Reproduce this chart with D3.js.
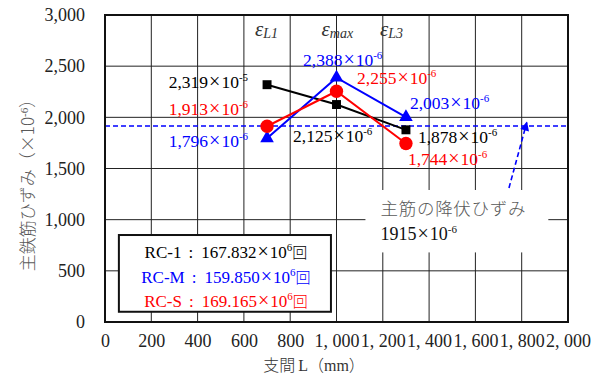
<!DOCTYPE html>
<html>
<head>
<meta charset="utf-8">
<script src="https://cdn.jsdelivr.net/npm/d3@7/dist/d3.min.js"></script>
<style>
  html, body { margin: 0; padding: 0; background: #fff; }
  svg { display: block; }
  text, tspan { font-family: "Liberation Serif", "Times New Roman", serif; }
  tspan.jp, text.jp { font-family: "Noto Sans CJK JP", "Noto Sans CJK SC", sans-serif; }
</style>
</head>
<body>
<svg id="chart" width="596" height="376"></svg>
<script>
// Span positions (mm) where strain was measured
const positions = [700, 1000, 1300];
const positionNames = ["L1", "max", "L3"];

// Main rebar strain (×10^-6) for each specimen
const rc1 = [2319, 2125, 1878];
const rcM = [1796, 2388, 2003];
const rcS = [1913, 2255, 1744];

// Yield strain of main rebar (×10^-6)
const yieldStrain = 1915;

// Fatigue cycles (×10^6) per specimen
const specimens = ["RC-1", "RC-M", "RC-S"];
const cycles = ["167.832", "159.850", "169.165"];

// Axis ticks
const xTicks = [0, 200, 400, 600, 800, 1000, 1200, 1400, 1600, 1800, 2000];
const yTicks = [0, 500, 1000, 1500, 2000, 2500, 3000];

const svg = d3.select("#chart");
const W = 596, H = 376;
const m = { left: 105, right: 28, top: 15, bottom: 54 };
const pw = W - m.left - m.right, ph = H - m.top - m.bottom;

const x = d3.scaleLinear().domain([0, 2000]).range([m.left, m.left + pw]);
const y = d3.scaleLinear().domain([0, 3000]).range([m.top + ph, m.top]);

// Grid
const grid = svg.append("g");
grid.selectAll(".vg").data(xTicks).join("line")
  .attr("x1", d => x(d)).attr("x2", d => x(d))
  .attr("y1", m.top).attr("y2", m.top + ph)
  .attr("stroke", "#222").attr("stroke-width", 1);
grid.selectAll(".hg").data(yTicks).join("line")
  .attr("x1", m.left).attr("x2", m.left + pw)
  .attr("y1", d => y(d)).attr("y2", d => y(d))
  .attr("stroke", "#222").attr("stroke-width", 1);

// Axes (labels only, the frame is drawn separately)
const fmtTick = v => v >= 1000 ? d3.format(",")(v).replace(",", ", ") : String(v);
const xAxis = svg.append("g").attr("transform", `translate(0,${m.top + ph})`)
  .call(d3.axisBottom(x).tickValues(xTicks).tickSize(0).tickPadding(12).tickFormat(fmtTick));
const yAxis = svg.append("g").attr("transform", `translate(${m.left},0)`)
  .call(d3.axisLeft(y).tickValues(yTicks).tickSize(0).tickPadding(20).tickFormat(d3.format(",")));
[xAxis, yAxis].forEach(a => {
  a.attr("font-family", null);
  a.select(".domain").remove();
  a.selectAll("text")
    .attr("font-size", 18).attr("fill", "#222").style("white-space", "pre");
});

// Callout background for the yield strain note
svg.append("rect")
  .attr("x", x(1125)).attr("y", y(1290))
  .attr("width", x(1915) - x(1125)).attr("height", y(680) - y(1290))
  .attr("fill", "#fff");

// Legend box with fatigue cycles
const colors = ["#000000", "#0000ff", "#ff0000"];
const lg = svg.append("g");
lg.append("rect")
  .attr("x", x(60)).attr("y", y(850))
  .attr("width", x(976) - x(60)).attr("height", y(100) - y(850))
  .attr("fill", "#fff").attr("stroke", "#111").attr("stroke-width", 2);
specimens.forEach((s, i) => {
  const t = lg.append("text")
    .attr("x", (x(60) + x(976)) / 2 + 1).attr("y", y(850) + 23 + i * 24.5)
    .attr("text-anchor", "middle").attr("font-size", 17).attr("fill", colors[i]);
  t.append("tspan").text(s);
  t.append("tspan").attr("dx", 7).text(":");
  t.append("tspan").attr("dx", 8).text(cycles[i]);
  t.append("tspan").attr("dx", 1).attr("font-size", 20).text("×");
  t.append("tspan").attr("dx", 1).text("10");
  t.append("tspan").attr("dy", -7).attr("font-size", 11).text("6");
  t.append("tspan").attr("class", "jp").attr("dy", 7).attr("font-size", 15).attr("font-weight", 300).text("回");
});

// Yield strain line
svg.append("line")
  .attr("x1", x(0)).attr("x2", x(2000))
  .attr("y1", y(yieldStrain)).attr("y2", y(yieldStrain))
  .attr("stroke", "#0000ff").attr("stroke-width", 1.6).attr("stroke-dasharray", "5,3");

// Arrow pointing at the yield line
svg.append("defs").append("marker")
  .attr("id", "arrowHead").attr("viewBox", "0 0 10 10")
  .attr("refX", 9).attr("refY", 5).attr("markerWidth", 10).attr("markerHeight", 9)
  .attr("markerUnits", "userSpaceOnUse").attr("orient", "auto")
  .append("path").attr("d", "M0,0 L10,5 L0,10 Z").attr("fill", "#0000ff");
svg.append("line")
  .attr("x1", x(1745)).attr("y1", y(1310))
  .attr("x2", x(1822)).attr("y2", y(1950))
  .attr("stroke", "#0000ff").attr("stroke-width", 1.6).attr("stroke-dasharray", "5,3")
  .attr("marker-end", "url(#arrowHead)");

// Callout text
svg.append("text").attr("class", "jp")
  .attr("x", x(1190)).attr("y", y(1045))
  .attr("font-size", 17.5).attr("font-weight", 300).attr("fill", "#595959").attr("textLength", 145)
  .text("主筋の降伏ひずみ");
const yl = svg.append("text").attr("x", x(1190)).attr("y", y(800))
  .attr("font-size", 18).attr("fill", "#111");
yl.append("tspan").text(String(yieldStrain));
yl.append("tspan").attr("dx", 1).attr("font-size", 20).text("×");
yl.append("tspan").attr("dx", 1).text("10");
yl.append("tspan").attr("dy", -7).attr("font-size", 11).text("-6");

// Series lines and markers
const series = [
  { vals: rc1, color: colors[0], shape: d3.symbolSquare, size: 80 },
  { vals: rcM, color: colors[1], shape: d3.symbolTriangle, size: 80 },
  { vals: rcS, color: colors[2], shape: d3.symbolCircle, size: 140 }
];
const line = d3.line().x((d, i) => x(positions[i])).y(d => y(d));
series.forEach(s => {
  svg.append("path").datum(s.vals)
    .attr("d", line).attr("fill", "none")
    .attr("stroke", s.color).attr("stroke-width", 2);
  svg.selectAll(null).data(s.vals).join("path")
    .attr("transform", (d, i) => `translate(${x(positions[i])},${y(d)})`)
    .attr("d", d3.symbol().type(s.shape).size(s.size))
    .attr("fill", s.color);
});

// Value labels: [series index, point index, dx, dy, anchor, exponent]
const labelPlacement = [
  [0, 0, -19, 3, "end", "-5"],
  [0, 1, -43.5, 37.5, "start", "-6"],
  [0, 2, 12, 13, "start", "-6"],
  [1, 0, -19, 9, "end", "-6"],
  [1, 1, -33.5, -12, "start", "-6"],
  [1, 2, 4, -8, "start", "-6"],
  [2, 0, -19, -11, "end", "-6"],
  [2, 1, 20.5, -7, "start", "-6"],
  [2, 2, 2, 21.5, "start", "-6"]
];
labelPlacement.forEach(([si, pi, dx, dy, anchor, ex]) => {
  const v = series[si].vals[pi];
  const t = svg.append("text")
    .attr("x", x(positions[pi]) + dx).attr("y", y(v) + dy)
    .attr("text-anchor", anchor).attr("font-size", 17.5).attr("fill", series[si].color);
  t.append("tspan").text(d3.format(",")(v));
  t.append("tspan").attr("dx", 1).attr("font-size", 20).text("×");
  t.append("tspan").attr("dx", 1).text("10");
  t.append("tspan").attr("dy", -7).attr("font-size", 11).text(ex);
});

// Position labels ε_L1, ε_max, ε_L3
const posOffsets = [-12, -15, -26];
positionNames.forEach((n, i) => {
  const t = svg.append("text")
    .attr("x", x(positions[i]) + posOffsets[i]).attr("y", 36)
    .attr("font-style", "italic").attr("fill", "#333");
  t.append("tspan").attr("font-size", 21).text("ε");
  t.append("tspan").attr("font-size", 14).attr("dy", 2).text(n);
});

// Plot frame
svg.append("rect")
  .attr("x", m.left).attr("y", m.top).attr("width", pw).attr("height", ph)
  .attr("fill", "none").attr("stroke", "#111").attr("stroke-width", 2);

// Axis titles
const yt = svg.append("text")
  .attr("transform", `translate(34,181) rotate(-90)`)
  .attr("text-anchor", "middle").attr("fill", "#595959").attr("font-size", 17);
yt.append("tspan").attr("class", "jp").attr("font-weight", 300).text("主鉄筋ひずみ（×10");
yt.append("tspan").attr("dy", -6).attr("font-size", 11).text("-6");
yt.append("tspan").attr("class", "jp").attr("font-weight", 300).attr("dy", 6).text("）");

const xt = svg.append("text")
  .attr("x", 314).attr("y", 371).attr("text-anchor", "middle")
  .attr("fill", "#333").attr("font-size", 16);
xt.append("tspan").attr("class", "jp").attr("font-weight", 300).text("支間");
xt.append("tspan").attr("dx", 3).text("L");
xt.append("tspan").attr("class", "jp").attr("font-weight", 300).text("（");
xt.append("tspan").text("mm");
xt.append("tspan").attr("class", "jp").attr("font-weight", 300).text("）");
</script>
</body>
</html>
